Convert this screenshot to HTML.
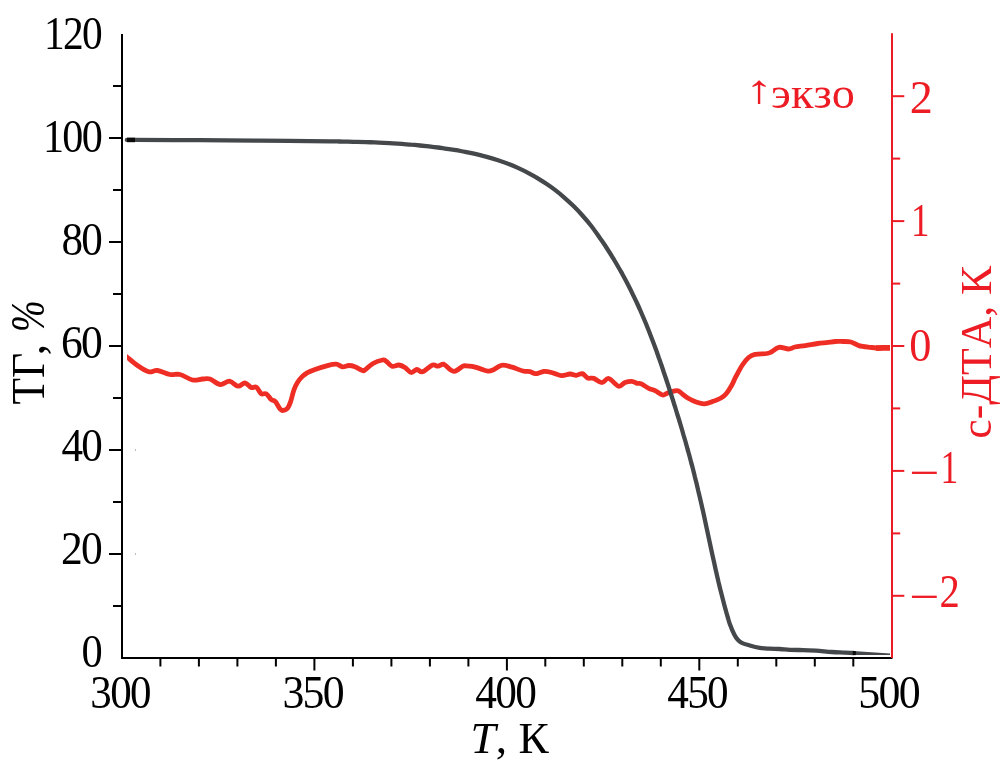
<!DOCTYPE html>
<html lang="ru"><head><meta charset="utf-8"><title>ТГ / с-ДТА</title>
<style>html,body{margin:0;padding:0;background:#fff}body{width:1004px;height:777px;overflow:hidden}svg{display:block}text{font-family:'Liberation Serif','Times New Roman',Times,serif;font-size:46px;font-kerning:none}</style>
</head><body>
<svg width="1004" height="777" viewBox="0 0 1004 777">
<rect width="1004" height="777" fill="#fff"/>
<clipPath id="rc"><rect x="127" y="300" width="763" height="150"/></clipPath>
<g clip-path="url(#rc)" fill="none" stroke="#ee2e24" stroke-linejoin="round"><path d="M122.0 353.0 C122.8 353.7 124.4 354.9 127.0 357.0 C129.6 359.1 133.9 363.0 137.5 365.5 C141.1 368.0 145.4 370.9 148.8 371.8 C152.1 372.6 154.0 370.0 157.5 370.5 C161.0 371.0 166.2 373.8 170.0 374.5 C173.8 375.2 176.2 373.6 180.0 374.5 C183.8 375.4 188.8 379.2 192.5 380.0 C196.2 380.8 199.6 379.2 202.5 379.0 C205.4 378.8 207.1 378.1 210.0 379.0 C212.9 379.9 216.8 384.1 220.0 384.5 C223.2 384.9 226.5 381.0 229.5 381.2 C232.5 381.5 235.4 386.0 238.0 386.2 C240.6 386.5 242.8 382.8 245.0 383.0 C247.2 383.2 249.4 386.8 251.2 387.5 C253.1 388.2 254.6 386.0 256.2 387.0 C257.9 388.0 259.6 392.6 261.2 393.8 C262.9 394.9 264.6 392.8 266.2 393.8 C267.9 394.7 269.8 398.2 271.2 399.5 C272.7 400.8 273.5 399.7 275.0 401.2 C276.5 402.8 278.8 407.2 280.0 408.8 C281.2 410.3 281.2 410.6 282.5 410.5 C283.8 410.4 286.2 409.7 287.5 408.3 C288.8 406.9 289.4 405.1 290.5 402.0 C291.6 398.9 292.8 393.1 294.0 389.8 C295.2 386.5 296.2 384.4 297.6 382.2 C299.0 380.0 300.8 378.0 302.4 376.4 C304.0 374.8 305.4 373.8 307.5 372.6 C309.6 371.5 311.7 370.7 315.0 369.5 C318.3 368.3 324.0 366.5 327.5 365.6 C331.0 364.7 333.8 364.1 336.2 364.2 C338.8 364.4 340.4 366.5 342.5 366.8 C344.6 367.0 346.7 365.5 348.8 365.5 C350.8 365.5 352.7 365.9 355.0 366.8 C357.3 367.6 360.8 370.0 362.5 370.5 C364.2 371.0 363.3 371.1 365.0 370.0 C366.7 368.9 369.6 365.4 372.5 363.8 C375.4 362.1 380.2 360.4 382.5 360.0 C384.8 359.6 384.7 360.2 386.2 361.2 C387.8 362.3 389.9 365.6 392.0 366.2 C394.1 366.9 396.6 364.8 398.8 365.0 C400.9 365.2 402.9 366.2 405.0 367.5 C407.1 368.8 409.2 372.2 411.2 372.5 C413.2 372.8 415.1 369.6 417.0 369.5 C418.9 369.4 419.9 372.5 422.5 371.8 C425.1 371.0 429.9 365.9 432.5 365.0 C435.1 364.1 436.1 366.4 438.0 366.2 C439.9 366.1 441.8 363.7 443.8 364.2 C445.8 364.8 448.1 368.3 450.0 369.5 C451.9 370.7 452.8 371.8 455.0 371.2 C457.2 370.7 461.2 367.0 463.0 366.1 C464.8 365.2 464.5 365.8 466.0 365.8 C467.5 365.8 469.7 365.8 472.0 366.3 C474.3 366.8 477.3 367.8 480.0 368.6 C482.7 369.4 485.8 370.9 488.0 371.1 C490.2 371.3 491.2 370.7 493.5 369.7 C495.8 368.7 498.5 365.8 501.5 365.3 C504.5 364.8 507.7 365.9 511.2 366.9 C514.8 367.8 519.9 370.2 523.0 371.0 C526.1 371.8 527.9 371.2 530.0 371.6 C532.1 372.1 533.2 373.7 535.5 373.7 C537.8 373.7 541.1 371.7 543.8 371.5 C546.4 371.3 548.6 371.8 551.5 372.5 C554.4 373.2 558.2 375.4 561.2 375.6 C564.3 375.9 567.5 374.1 570.0 374.0 C572.5 373.9 574.2 375.4 576.2 375.3 C578.3 375.2 580.6 373.2 582.5 373.6 C584.4 374.1 585.6 377.2 587.5 378.0 C589.4 378.8 591.4 377.6 593.8 378.4 C596.1 379.2 599.4 382.6 601.9 382.6 C604.4 382.6 606.0 377.9 608.8 378.5 C611.5 379.1 615.8 385.5 618.5 386.2 C621.2 386.9 622.8 383.3 625.0 382.5 C627.2 381.7 629.9 381.2 631.9 381.3 C633.9 381.4 635.4 382.9 637.0 383.3 C638.6 383.7 639.3 382.9 641.2 383.8 C643.2 384.6 646.4 387.3 648.7 388.4 C651.0 389.5 652.7 389.5 655.0 390.6 C657.3 391.7 660.5 394.6 662.6 395.0 C664.7 395.4 665.6 393.7 667.5 393.1 C669.4 392.5 672.0 391.6 673.7 391.2 C675.5 390.8 676.6 390.3 678.0 390.7 C679.4 391.1 680.5 392.5 682.2 393.8 C683.9 395.1 685.8 396.9 688.2 398.3 C690.6 399.7 694.1 401.4 696.8 402.3 C699.5 403.2 701.7 403.9 704.3 403.8 C706.9 403.7 709.6 402.6 712.4 401.6 C715.2 400.6 718.7 399.3 721.0 398.0 C723.3 396.7 724.5 395.7 726.2 393.7 C727.9 391.7 729.6 389.1 731.2 386.2 C732.9 383.3 734.2 379.7 736.1 376.2 C738.0 372.7 740.3 368.1 742.4 365.0 C744.5 361.9 746.5 359.3 748.6 357.5 C750.7 355.7 751.9 355.1 754.9 354.4 C757.9 353.7 764.1 353.9 766.8 353.5 C769.5 353.1 769.2 353.0 771.2 352.0 C773.2 351.0 776.1 347.8 779.0 347.3 C781.9 346.8 786.1 349.1 788.7 349.0 C791.4 348.9 792.1 347.6 794.9 347.0 C797.7 346.4 801.6 346.2 805.4 345.6 C809.2 345.0 814.1 344.0 817.6 343.5 C821.1 343.0 823.5 342.9 826.4 342.6 C829.3 342.3 832.6 341.7 835.2 341.5 C837.8 341.3 839.6 341.4 842.2 341.5 C844.8 341.6 848.1 341.3 850.9 342.0 C853.7 342.7 855.6 344.7 858.8 345.6 C862.0 346.5 866.8 346.9 870.2 347.3 C873.6 347.7 876.6 348.1 879.0 348.2 C881.4 348.3 882.5 347.8 884.3 347.7 C886.1 347.6 888.2 347.8 890.0 347.8 C891.8 347.8 894.2 347.8 895.0 347.8" stroke-width="4.8"/><path d="M876 348.1 L882 347.8 L895 347.8" stroke-width="5.7"/></g>
<path d="M127.0 139.9 C128.3 139.9 122.8 139.9 135.0 139.9 C147.2 139.9 179.2 140.1 200.0 140.2 C220.8 140.3 238.3 140.4 260.0 140.6 C281.7 140.8 316.8 141.2 330.0 141.4 C343.2 141.5 336.0 141.4 339.0 141.5 C342.0 141.5 345.0 141.6 348.0 141.6 C351.0 141.7 354.0 141.8 357.0 141.8 C360.0 141.9 363.0 142.0 366.0 142.1 C369.0 142.2 372.0 142.3 375.0 142.4 C378.0 142.6 381.0 142.7 384.0 142.8 C387.0 143.0 390.0 143.2 393.0 143.3 C396.0 143.5 399.0 143.7 402.0 143.9 C405.0 144.2 408.0 144.4 411.0 144.7 C414.0 144.9 417.0 145.2 420.0 145.5 C423.0 145.8 426.0 146.1 429.0 146.4 C432.0 146.8 435.0 147.2 438.0 147.5 C441.0 147.9 444.0 148.4 447.0 148.8 C450.0 149.2 453.0 149.7 456.0 150.2 C459.0 150.7 462.0 151.3 465.0 151.8 C468.0 152.4 471.0 153.0 474.0 153.7 C477.0 154.4 480.0 155.1 483.0 155.9 C486.0 156.6 489.0 157.5 492.0 158.4 C495.0 159.3 498.0 160.2 501.0 161.3 C504.0 162.3 507.0 163.4 510.0 164.6 C513.0 165.8 516.0 167.1 519.0 168.4 C522.0 169.8 525.0 171.2 528.0 172.8 C531.0 174.4 534.0 176.0 537.0 177.8 C540.0 179.6 543.0 181.4 546.0 183.5 C549.0 185.5 552.0 187.6 555.0 189.9 C558.0 192.2 561.0 194.7 564.0 197.3 C567.0 199.9 570.0 202.6 573.0 205.6 C576.0 208.5 579.1 211.7 582.0 215.0 C584.9 218.2 588.3 222.2 590.5 225.0 C592.8 227.8 594.0 229.7 595.7 232.0 C597.4 234.3 599.0 236.7 600.6 239.0 C602.3 241.3 603.8 243.7 605.4 246.0 C606.9 248.3 608.4 250.7 609.9 253.0 C611.4 255.3 612.8 257.7 614.2 260.0 C615.6 262.3 617.0 264.7 618.3 267.0 C619.7 269.3 621.0 271.7 622.3 274.0 C623.6 276.3 624.8 278.7 626.1 281.0 C627.3 283.3 628.5 285.7 629.7 288.0 C630.9 290.3 632.0 292.7 633.1 295.0 C634.3 297.3 635.4 299.7 636.5 302.0 C637.6 304.3 638.6 306.7 639.7 309.0 C640.7 311.3 641.7 313.7 642.7 316.0 C643.7 318.3 644.7 320.7 645.7 323.0 C646.6 325.3 647.6 327.7 648.5 330.0 C649.4 332.3 650.3 334.7 651.2 337.0 C652.1 339.3 653.0 341.7 653.9 344.0 C654.8 346.3 655.6 348.7 656.5 351.0 C657.3 353.3 658.1 355.7 658.9 358.0 C659.8 360.3 660.6 362.7 661.4 365.0 C662.2 367.3 663.0 369.7 663.7 372.0 C664.5 374.3 665.3 376.7 666.1 379.0 C666.8 381.3 667.6 383.7 668.4 386.0 C669.1 388.3 669.9 390.7 670.6 393.0 C671.4 395.3 672.1 397.7 672.9 400.0 C673.6 402.3 674.3 404.7 675.1 407.0 C675.8 409.3 676.5 411.7 677.2 414.0 C678.0 416.3 678.7 418.7 679.4 421.0 C680.1 423.3 680.8 425.7 681.5 428.0 C682.2 430.3 682.9 432.7 683.5 435.0 C684.2 437.3 684.9 439.7 685.6 442.0 C686.2 444.3 686.9 446.7 687.5 449.0 C688.2 451.3 688.8 453.7 689.5 456.0 C690.1 458.3 690.7 460.7 691.3 463.0 C692.0 465.3 692.6 467.7 693.2 470.0 C693.8 472.3 694.4 474.7 694.9 477.0 C695.5 479.3 696.1 481.7 696.7 484.0 C697.2 486.3 697.8 488.7 698.3 491.0 C698.9 493.3 699.4 495.7 700.0 498.0 C700.5 500.3 701.1 502.7 701.6 505.0 C702.1 507.3 702.7 509.7 703.2 512.0 C703.7 514.3 704.2 516.7 704.7 519.0 C705.2 521.3 705.7 523.7 706.2 526.0 C706.7 528.3 707.2 530.7 707.7 533.0 C708.2 535.3 708.7 537.7 709.2 540.0 C709.7 542.3 710.2 544.7 710.7 547.0 C711.2 549.3 711.7 551.7 712.2 554.0 C712.7 556.3 713.2 558.7 713.8 561.0 C714.3 563.3 714.8 565.7 715.3 568.0 C715.8 570.3 716.4 572.7 716.9 575.0 C717.4 577.3 718.0 579.7 718.5 582.0 C719.1 584.3 719.6 586.7 720.2 589.0 C720.8 591.3 721.4 593.7 722.0 596.0 C722.6 598.3 723.2 600.7 723.8 603.0 C724.4 605.3 725.0 607.7 725.7 610.0 C726.3 612.3 727.0 614.7 727.7 617.0 C728.4 619.3 728.7 621.0 729.8 624.0 C730.9 627.0 733.1 632.2 734.4 634.8 C735.7 637.4 736.6 638.5 737.8 639.8 C739.0 641.1 739.8 641.8 741.8 642.8 C743.8 643.8 746.8 644.6 749.8 645.5 C752.8 646.4 756.5 647.4 759.8 647.9 C763.1 648.4 766.4 648.5 769.7 648.7 C773.0 648.9 776.3 648.8 779.7 649.0 C783.1 649.2 786.1 649.6 790.0 649.8 C793.9 650.0 798.7 650.0 803.0 650.1 C807.3 650.2 811.2 650.4 816.0 650.7 C820.8 651.0 827.2 651.7 832.0 652.0 C836.8 652.3 841.4 652.4 845.0 652.6 C848.6 652.8 852.1 652.9 853.5 653.0" fill="none" stroke="#45484a" stroke-width="4.3" stroke-linejoin="round" stroke-linecap="butt"/>
<polygon points="853,650.9 890,653.5 890,654.9 853,655.1" fill="#45484a"/>
<rect x="127" y="137.7" width="8" height="4.5" fill="#0a0a0a"/>
<rect x="852.8" y="651" width="3" height="4.1" fill="#0a0a0a"/>
<rect x="135" y="449" width="1" height="2" fill="#bbb"/><rect x="135" y="553" width="1" height="2" fill="#bbb"/>
<g stroke="#000" stroke-width="2" fill="none">
<path d="M122 34 V658 H892.5"/>
<path d="M122 606.0 H113"/>
<path d="M122 554.0 H109"/>
<path d="M122 502.0 H113"/>
<path d="M122 450.0 H109"/>
<path d="M122 398.0 H113"/>
<path d="M122 346.0 H109"/>
<path d="M122 294.0 H113"/>
<path d="M122 242.0 H109"/>
<path d="M122 190.0 H113"/>
<path d="M122 138.0 H109"/>
<path d="M122 86.0 H113"/>
<path d="M160.4 658 V666.5"/>
<path d="M198.9 658 V666.5"/>
<path d="M237.4 658 V666.5"/>
<path d="M275.9 658 V666.5"/>
<path d="M314.4 658 V670.5"/>
<path d="M352.9 658 V666.5"/>
<path d="M391.4 658 V666.5"/>
<path d="M429.9 658 V666.5"/>
<path d="M468.4 658 V666.5"/>
<path d="M506.9 658 V670.5"/>
<path d="M545.3 658 V666.5"/>
<path d="M583.8 658 V666.5"/>
<path d="M622.3 658 V666.5"/>
<path d="M660.8 658 V666.5"/>
<path d="M699.3 658 V670.5"/>
<path d="M737.8 658 V666.5"/>
<path d="M776.3 658 V666.5"/>
<path d="M814.8 658 V666.5"/>
<path d="M853.3 658 V666.5"/>
</g>
<g stroke="#ed1c24" stroke-width="2" fill="none">
<path d="M892 33.3 V658"/>
<path d="M892 595.8 H904.3"/>
<path d="M892 533.4 H900.2"/>
<path d="M892 470.9 H904.3"/>
<path d="M892 408.4 H900.2"/>
<path d="M892 346.0 H904.3"/>
<path d="M892 283.6 H900.2"/>
<path d="M892 221.1 H904.3"/>
<path d="M892 158.6 H900.2"/>
<path d="M892 96.2 H904.3"/>
</g>
<text transform="translate(43.96 49.00) scale(0.8993 1)" fill="#000" style="letter-spacing:-1.8px;">120</text>
<text transform="translate(42.90 152.00) scale(0.9160 1)" fill="#000" style="letter-spacing:-1.8px;">100</text>
<text transform="translate(61.46 254.50) scale(0.9362 1)" fill="#000" style="letter-spacing:-1.8px;">80</text>
<text transform="translate(60.92 357.50) scale(0.9488 1)" fill="#000" style="letter-spacing:-1.8px;">60</text>
<text transform="translate(61.46 461.00) scale(0.9362 1)" fill="#000" style="letter-spacing:-1.8px;">40</text>
<text transform="translate(61.09 563.90) scale(0.9449 1)" fill="#000" style="letter-spacing:-1.8px;">20</text>
<text transform="translate(81.58 666.90) scale(0.9233 1)" fill="#000" style="letter-spacing:-1.8px;">0</text>
<text transform="translate(90.34 707.70) scale(0.9358 1)" fill="#000" style="letter-spacing:-1.8px;">300</text>
<text transform="translate(282.40 707.70) scale(0.9537 1)" fill="#000" style="letter-spacing:-1.8px;">350</text>
<text transform="translate(475.25 707.70) scale(0.9418 1)" fill="#000" style="letter-spacing:-1.8px;">400</text>
<text transform="translate(667.26 707.70) scale(0.9402 1)" fill="#000" style="letter-spacing:-1.8px;">450</text>
<text transform="translate(858.35 707.70) scale(0.9545 1)" fill="#000" style="letter-spacing:-1.8px;">500</text>
<text transform="translate(909.87 113.10) scale(1.0032 1)" fill="#ed1c24">2</text>
<text transform="translate(910.95 235.90) scale(0.8027 1)" fill="#ed1c24">1</text>
<text transform="translate(909.21 361.20) scale(0.9643 1)" fill="#ed1c24">0</text>
<text transform="translate(909.53 488.10) scale(1.1633 1)" fill="#ed1c24">−</text>
<text transform="translate(940.38 483.00) scale(0.7719 1)" fill="#ed1c24">1</text>
<text transform="translate(909.53 612.00) scale(1.1633 1)" fill="#ed1c24">−</text>
<text transform="translate(939.51 606.90) scale(0.8839 1)" fill="#ed1c24">2</text>
<text transform="translate(771.04 107.70) scale(1.0525 1)" fill="#ed1c24" style="font-size:44px;">экзо</text>
<text transform="translate(745.06 102.60) scale(1.4187 1)" fill="#ed1c24" style="font-size:40px;">↑</text>
<text transform="translate(43.60 404.59) rotate(-90) scale(0.9574 1)" fill="#000" style="font-size:45.5px;">ТГ</text>
<text transform="translate(43.60 355.21) rotate(-90) scale(0.9888 1)" fill="#000" style="font-size:45.5px;">,</text>
<text transform="translate(43.80 331.98) rotate(-90) scale(0.7942 1)" fill="#000" style="font-size:48px;"><tspan font-style="italic">%</tspan></text>
<text transform="translate(990.50 438.76) rotate(-90) scale(0.9712 1)" fill="#ed1c24" style="font-size:45px;">с-ДТА, К</text>
<text transform="translate(470.53 753.30) scale(1.0073 1)" fill="#000" style="font-size:45px;"><tspan font-style="italic">T</tspan>, К</text>
</svg>
</body></html>
